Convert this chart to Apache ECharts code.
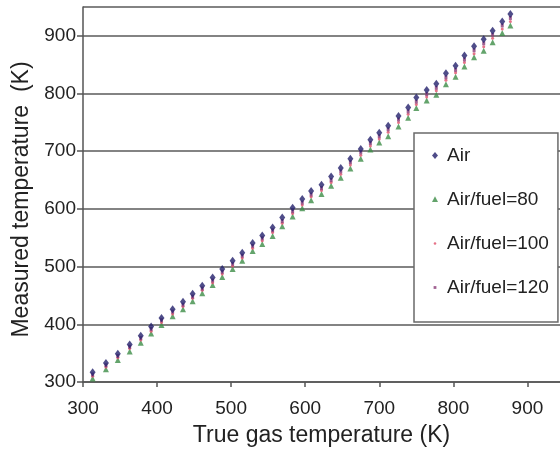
<!DOCTYPE html>
<html>
<head>
<meta charset="utf-8">
<script src="https://cdn.jsdelivr.net/npm/echarts@6/dist/echarts.min.js"></script>
<style>
html,body{margin:0;padding:0;background:#fff;}
#chart{width:560px;height:452px;}
</style>
</head>
<body>
<div id="chart"></div>
<script>
// True gas temperature (K)
var trueTemp = [313, 331, 347, 363, 378, 392, 406, 421, 435, 448, 461, 475, 488, 502, 515, 529, 542, 556, 569, 583, 596, 608, 622, 635, 648, 661, 675, 688, 700, 712, 726, 739, 750, 764, 777, 790, 803, 815, 828, 841, 853, 866, 877];
// Measured temperature (K) per series
var airVals   = [317, 333, 349, 365, 380, 396, 411, 426, 439, 453, 467, 481, 496, 510, 524, 541, 554, 568, 585, 602, 617, 631, 642, 656, 671, 687, 704, 720, 732, 744, 761, 776, 793, 806, 817, 835, 848, 866, 882, 894, 909, 925, 938];
var af80Vals  = [306, 322, 338, 353, 368, 384, 399, 414, 426, 440, 454, 468, 482, 496, 510, 527, 539, 553, 570, 587, 601, 615, 626, 640, 654, 670, 687, 703, 715, 726, 743, 758, 775, 788, 798, 816, 829, 847, 863, 874, 889, 905, 918];
var af100Vals = [310, 326, 342, 358, 373, 388, 403, 418, 431, 445, 459, 472, 487, 501, 515, 532, 545, 559, 575, 592, 607, 621, 632, 646, 660, 676, 693, 709, 721, 733, 750, 764, 781, 794, 805, 823, 836, 854, 869, 881, 896, 912, 925];
var af120Vals = [313, 329, 345, 361, 376, 392, 407, 422, 434, 448, 462, 476, 491, 505, 519, 536, 549, 563, 579, 596, 611, 625, 636, 650, 665, 681, 698, 714, 726, 738, 755, 769, 786, 799, 810, 828, 841, 859, 875, 887, 902, 918, 931];
var seriesNames = ['Air', 'Air/fuel=80', 'Air/fuel=100', 'Air/fuel=120'];
var xTicks = [300, 400, 500, 600, 700, 800, 900];
var yTicks = [300, 400, 500, 600, 700, 800, 900];

function pairs(xs, ys) { return xs.map(function (x, i) { return [x, ys[i]]; }); }
function svgIcon(inner) {
  return 'image://data:image/svg+xml;utf8,' + encodeURIComponent(
    '<svg xmlns="http://www.w3.org/2000/svg" width="12" height="12" viewBox="0 0 12 12">' + inner + '</svg>');
}
var C_AIR = '#23206b', C_80 = '#3d8d47', C_100 = '#e0506a', C_120 = '#8a3c78';
var icons = [
  svgIcon('<polygon points="6,2.5 9,6 6,9.5 3,6" fill="' + C_AIR + '"/>'),
  svgIcon('<polygon points="6,2.8 9,8.6 3,8.6" fill="' + C_80 + '"/>'),
  svgIcon('<circle cx="6" cy="6" r="1.3" fill="' + C_100 + '"/>'),
  svgIcon('<rect x="4.6" y="4.6" width="2.8" height="2.8" fill="' + C_120 + '"/>')
];

var FONT = 'Liberation Sans, Arial, sans-serif';
var chart = echarts.init(document.getElementById('chart'), null, {renderer: 'canvas'});
chart.setOption({
  backgroundColor: '#fff',
  animation: false,
  grid: {left: 83, top: 7, right: 0, bottom: 67, show: false},
  xAxis: {
    type: 'value', min: 300, max: 944, interval: 100,
    name: 'True gas temperature (K)', nameLocation: 'middle', nameGap: 42,
    nameTextStyle: {fontFamily: FONT, fontSize: 23, color: '#222'},
    axisLine: {show: true, lineStyle: {color: '#555', width: 1.5}},
    axisTick: {show: true, length: 5, lineStyle: {color: '#555', width: 1.5}},
    axisLabel: {fontFamily: FONT, fontSize: 19, color: '#222', margin: 17, showMaxLabel: false,
      formatter: function (v) { return xTicks.indexOf(v) >= 0 ? String(v) : ''; }},
    splitLine: {show: false}
  },
  yAxis: {
    type: 'value', min: 300, max: 950, interval: 100,
    name: 'Measured temperature  (K)', nameLocation: 'middle', nameGap: 50, nameRotate: 90,
    nameTextStyle: {fontFamily: FONT, fontSize: 23, color: '#222', padding: [0, 10, 0, 0]},
    axisLine: {show: true, lineStyle: {color: '#555', width: 1.5}},
    axisTick: {show: true, length: 6, lineStyle: {color: '#555', width: 1.5}},
    axisLabel: {fontFamily: FONT, fontSize: 19, color: '#222', margin: 7, showMaxLabel: false,
      formatter: function (v) { return yTicks.indexOf(v) >= 0 ? String(v) : ''; }},
    splitLine: {show: true, lineStyle: {color: '#5a5a5a', width: 1.5}}
  },
  legend: {
    orient: 'vertical', left: 414, top: 133,
    backgroundColor: '#fff', borderColor: '#6a6a6a', borderWidth: 1.5, borderRadius: 0,
    padding: [13, 9, 25, 15],
    itemWidth: 12, itemHeight: 12, itemGap: 25,
    textStyle: {fontFamily: FONT, fontSize: 19, color: '#222', padding: [0, 0, 0, 1]},
    data: seriesNames.map(function (n, i) { return {name: n, icon: icons[i]}; })
  },
  series: [
    {name: seriesNames[0], type: 'scatter', z: 5, symbol: 'diamond', symbolSize: [6, 8], itemStyle: {color: C_AIR}, data: pairs(trueTemp, airVals)},
    {name: seriesNames[1], type: 'scatter', z: 2, symbol: 'triangle', symbolSize: [6, 6], itemStyle: {color: C_80}, data: pairs(trueTemp, af80Vals)},
    {name: seriesNames[2], type: 'scatter', z: 3, symbol: 'circle', symbolSize: 3, itemStyle: {color: C_100}, data: pairs(trueTemp, af100Vals)},
    {name: seriesNames[3], type: 'scatter', z: 4, symbol: 'rect', symbolSize: [3, 4], itemStyle: {color: C_120}, data: pairs(trueTemp, af120Vals)}
  ]
});
</script>
</body>
</html>
